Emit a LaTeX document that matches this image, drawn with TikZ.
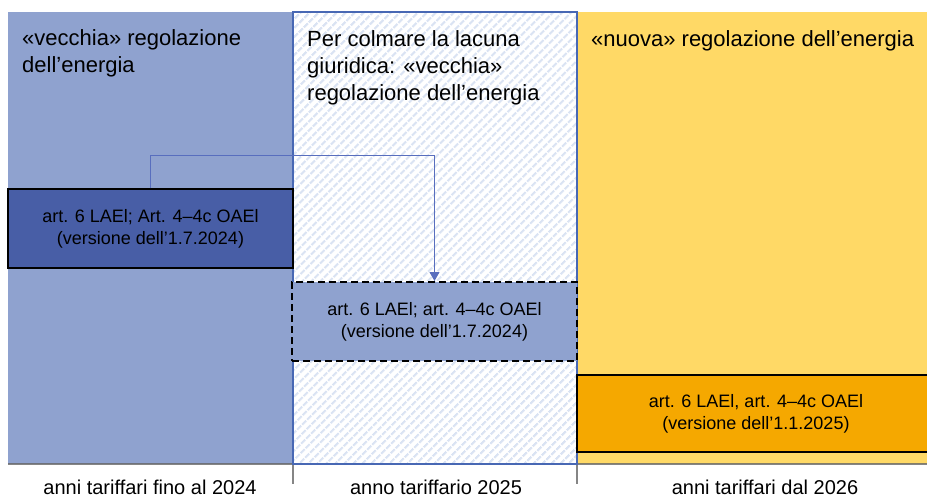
\documentclass[tikz,border=0pt]{standalone}
\usepackage{fontspec}
\setmainfont{Liberation Sans}
\usetikzlibrary{arrows.meta,patterns.meta}

\definecolor{oldbg}{RGB}{143,162,207}
\definecolor{olddark}{RGB}{72,94,166}
\definecolor{newbg}{RGB}{255,217,102}
\definecolor{newbox}{RGB}{245,168,0}
\definecolor{midline}{RGB}{72,104,180}
\definecolor{stripe}{RGB}{218,227,243}
\definecolor{linkc}{RGB}{88,110,190}

\begin{document}
\begin{tikzpicture}[x=1pt, y=-1pt,
  title/.style={anchor=north west, inner sep=0pt, align=left, font=\fontsize{22}{27}\selectfont},
  rule/.style={draw=black, line width=1.5pt, minimum height=79pt, inner sep=0pt, align=center, font=\fontsize{18}{22}\selectfont},
  year/.style={anchor=base, inner sep=0pt, font=\fontsize{20}{23}\selectfont},
  link/.style={draw=linkc, line width=1pt, -{Triangle[width=10pt, length=9pt]}},
  axis/.style={draw=black!60, line width=1.5pt, opacity=0.8}]

  \useasboundingbox (0,0) rectangle (927,499);

  % the three periods
  \fill[oldbg] (8,12) rectangle (293,464);
  \fill[white] (293,12) rectangle (577,464);
  \fill[pattern={Lines[angle=45, distance=6.5pt, line width=2.5pt]}, pattern color=stripe] (293,12) rectangle (577,464);
  \fill[newbg] (577,12) rectangle (935,464);

  % time axis
  \coordinate (t0) at (8,464);
  \coordinate (t1) at (293,464);
  \coordinate (t2) at (577,464);
  \coordinate (t3) at (935,464);
  \draw[axis] (t0) -- (t3);
  \draw[axis] (t1) -- ++(0,20);
  \draw[axis] (t2) -- ++(0,20);

  \draw[midline, line width=1.5pt] (293,12) rectangle (577,464);

  \node[title] (oldtitle) at (22,29) {«vecchia» regolazione\\dell’energia};
  \node[title] (gaptitle) at (307,30) {Per colmare la lacuna\\giuridica: «vecchia»\\regolazione dell’energia};
  \node[title] (newtitle) at (591,30) {«nuova» regolazione dell’energia};

  \node[rule, fill=olddark, minimum width=285pt] (old) at (150.5,228.5)
    {art. 6 LAEl; Art. 4–4c OAEl\\(versione dell’1.7.2024)};
  \node[rule, fill=oldbg, line width=2pt, dash pattern=on 7pt off 4pt, minimum width=285pt] (gap) at (434.5,321.5)
    {art. 6 LAEl; art. 4–4c OAEl\\(versione dell’1.7.2024)};
  \node[rule, fill=newbox, minimum width=358pt, minimum height=77pt] (new) at (756,413.5)
    {art. 6 LAEl, art. 4–4c OAEl\\(versione dell’1.1.2025)};

  \draw[link] (old.north) -- ++(0,-33) -| (gap.north);

  \node[year] (y1) at (150,494) {anni tariffari fino al 2024};
  \node[year] (y2) at (436,494) {anno tariffario 2025};
  \node[year] (y3) at (765,494) {anni tariffari dal 2026};

\end{tikzpicture}
\end{document}
